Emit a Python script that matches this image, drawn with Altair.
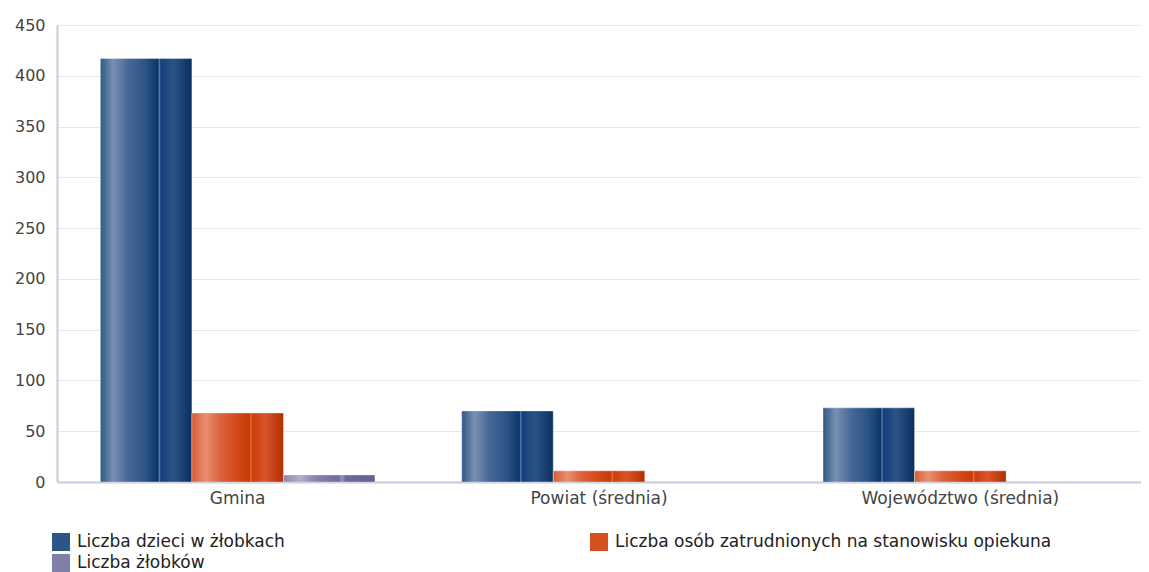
import altair as alt
import pandas as pd

categories = ["Gmina", "Powiat (średnia)", "Województwo (średnia)"]
series = [
    "Liczba dzieci w żłobkach",
    "Liczba osób zatrudnionych na stanowisku opiekuna",
    "Liczba żłobków",
]
dzieci = [417, 70, 73]
opiekunowie = [68, 11, 11]
zlobki = [7, 0, 0]
legend_colors = ["#2b5687", "#d4501f", "#7f7fa8"]

rows = []
for s, vals in zip(series, [dzieci, opiekunowie, zlobki]):
    for c, v in zip(categories, vals):
        rows.append({"cat": c, "series": s, "value": v})
df = pd.DataFrame(rows)


def grad(stops):
    return alt.LinearGradient(
        gradient="linear", x1=0, x2=1, y1=0, y2=0,
        stops=[alt.GradientStop(offset=o, color=c) for o, c in stops],
    )


gradients = [
    grad([(0, "#2f5a88"), (0.14, "#7890b0"), (0.3, "#47699a"), (0.5, "#2a5283"),
          (0.63, "#0c376a"), (0.645, "#5e7ea4"), (0.66, "#12407a"), (0.8, "#2a5485"), (1, "#0a2f5f")]),
    grad([(0, "#d85a35"), (0.15, "#e8906f"), (0.3, "#dc6540"), (0.5, "#d24818"),
          (0.63, "#c83a05"), (0.645, "#e0704a"), (0.66, "#cc3e0a"), (0.8, "#d8552a"), (1, "#b42e00")]),
    grad([(0, "#8a8ab2"), (0.18, "#aeaecc"), (0.35, "#8585ae"), (0.6, "#6e6e9c"),
          (0.64, "#9494b8"), (0.68, "#6c6c9a"), (1, "#62628f")]),
]

FONT = "DejaVu Sans"
AXIS_COLOR = "#c8cadb"

x_enc = alt.X(
    "cat:N", sort=categories,
    scale=alt.Scale(domain=categories, paddingInner=0.24, paddingOuter=0.12),
    axis=alt.Axis(title=None, labelAngle=0, ticks=False, labelPadding=8, labelLimit=600,
                  labelFont=FONT, labelFontSize=17, labelColor="#444444",
                  domainColor=AXIS_COLOR, domainWidth=2),
)
xoff_enc = alt.XOffset("series:N", sort=series,
                       scale=alt.Scale(domain=series, paddingInner=0, paddingOuter=0))
y_enc = alt.Y(
    "value:Q", scale=alt.Scale(domain=[0, 450], nice=False),
    axis=alt.Axis(title=None, values=list(range(0, 451, 50)), ticks=False, labelPadding=12,
                  labelFont=FONT, labelFontSize=16, labelColor="#444444",
                  domainColor=AXIS_COLOR, domainWidth=2,
                  gridColor="#e6e6ee", gridWidth=1),
)

base = alt.Chart(df)
layers = []
for s, g in zip(series, gradients):
    layers.append(
        base.transform_filter(alt.datum.series == s)
        .transform_filter(alt.datum.value > 0)
        .mark_bar(fill=g, stroke="#ffffff", strokeOpacity=0.35, strokeWidth=1)
        .encode(x=x_enc, xOffset=xoff_enc, y=y_enc)
    )

legend_layer = base.mark_bar(opacity=0).encode(
    x=x_enc, xOffset=xoff_enc, y=y_enc,
    color=alt.Color(
        "series:N", sort=series,
        scale=alt.Scale(domain=series, range=legend_colors),
        legend=alt.Legend(
            title=None, orient="none", direction="horizontal", legendX=-5, legendY=508, columns=2,
            symbolType="square", symbolSize=324, symbolOpacity=1, symbolStrokeWidth=0,
            labelFont=FONT, labelFontSize=17, labelColor="#222222", labelLimit=800,
            labelOffset=7, columnPadding=305, rowPadding=3, padding=0,
        ),
    ),
)

chart = (
    alt.layer(*layers, legend_layer)
    .properties(width=1084, height=457, padding={"left": 49, "top": 17, "right": 0, "bottom": 90},
                autosize=alt.AutoSizeParams(type="none"))
    .configure_view(stroke=None)
)

chart.save("out.html", embed_options={"renderer": "svg", "actions": False})
